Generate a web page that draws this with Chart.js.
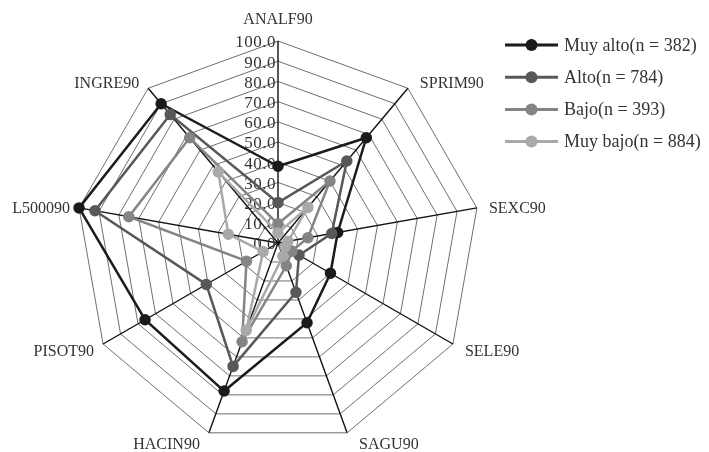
<!DOCTYPE html>
<html>
<head>
<meta charset="utf-8">
<script src="https://cdn.jsdelivr.net/npm/chart.js"></script>
<style>
  body { margin: 0; background: #fff; }
</style>
</head>
<body>
<canvas id="myChart" width="709" height="452"></canvas>
<script>
// axes (clockwise from top)
const categories = ['ANALF90', 'SPRIM90', 'SEXC90', 'SELE90', 'SAGU90', 'HACIN90', 'PISOT90', 'L500090', 'INGRE90'];

// series values
const muyAlto = [38, 68, 30, 30, 42, 78, 76, 100, 90];
const alto = [20, 53, 27, 12, 26, 65, 41, 92, 83];
const bajo = [9.5, 40, 15, 8, 12, 52, 18, 75, 68];
const muyBajo = [5, 23, 5, 4, 7, 46, 8.5, 25, 46];

const seriesNames = ['Muy alto(n = 382)', 'Alto(n = 784)', 'Bajo(n = 393)', 'Muy bajo(n = 884)'];
const seriesColors = ['#1b1b1b', '#58585a', '#848484', '#a9a9a9'];

// tick labels
const tickValues = [0, 10, 20, 30, 40, 50, 60, 70, 80, 90, 100];
const tickLabels = ['0.0', '10.0', '20.0', '30.0', '40.0', '50.0', '60.0', '70.0', '80.0', '90.0', '100.0'];

const serif = '"Liberation Serif", "DejaVu Serif", serif';
const textColor = '#333';

// tick labels left of the vertical axis
const tickPlugin = {
  id: 'leftTicks',
  beforeDatasetsDraw(chart) {
    const r = chart.scales.r;
    const ctx = chart.ctx;
    ctx.save();
    ctx.font = '17px ' + serif;
    ctx.letterSpacing = '0.5px';
    ctx.fillStyle = textColor;
    ctx.textAlign = 'right';
    ctx.textBaseline = 'middle';
    tickValues.forEach((v, i) => {
      const d = r.getDistanceFromCenterForValue(v);
      ctx.fillText(tickLabels[i], r.xCenter - 2, r.yCenter - d + 2);
    });
    ctx.restore();
  }
};

// axis names placed next to the outer vertices
const axisNamePlugin = {
  id: 'axisNames',
  afterDraw(chart) {
    const r = chart.scales.r;
    const ctx = chart.ctx;
    const dist = r.getDistanceFromCenterForValue(100);
    ctx.save();
    ctx.font = '16px ' + serif;
    ctx.fillStyle = textColor;
    categories.forEach((name, i) => {
      const p = r.getPointPosition(i, dist);
      const dx = (p.x - r.xCenter) / dist;
      const dy = (p.y - r.yCenter) / dist;
      if (Math.abs(dx) < 0.05) {
        ctx.textAlign = 'center';
        ctx.textBaseline = 'bottom';
        ctx.fillText(name, p.x, p.y - 13);
      } else {
        ctx.textAlign = dx > 0 ? 'left' : 'right';
        ctx.textBaseline = 'middle';
        ctx.fillText(name, p.x + (dx > 0 ? 12 : -9), p.y + 10 * dy + 3);
      }
    });
    ctx.restore();
  }
};

// legend: line with a dot, top right
const legendPlugin = {
  id: 'lineDotLegend',
  afterDraw(chart) {
    const ctx = chart.ctx;
    ctx.save();
    ctx.font = '18px ' + serif;
    ctx.textAlign = 'left';
    ctx.textBaseline = 'middle';
    seriesNames.forEach((name, i) => {
      const y = 45 + i * 32.2;
      ctx.strokeStyle = seriesColors[i];
      ctx.lineWidth = 3;
      ctx.beginPath();
      ctx.moveTo(505, y);
      ctx.lineTo(558, y);
      ctx.stroke();
      ctx.fillStyle = seriesColors[i];
      ctx.beginPath();
      ctx.arc(531.5, y, 6, 0, Math.PI * 2);
      ctx.fill();
      ctx.fillStyle = textColor;
      ctx.fillText(name, 564, y + 1);
    });
    ctx.restore();
  }
};

const datasets = [muyAlto, alto, bajo, muyBajo].map((vals, i) => ({
  label: seriesNames[i],
  data: vals,
  borderColor: seriesColors[i],
  backgroundColor: seriesColors[i],
  pointBackgroundColor: seriesColors[i],
  pointBorderColor: seriesColors[i],
  pointRadius: 4.5,
  borderWidth: 2.5,
  fill: false
}));

const myChart = new Chart(document.getElementById('myChart'), {
  type: 'radar',
  data: {
    labels: categories,
    // last series drawn on top, like the original
    datasets: datasets.reverse()
  },
  options: {
    responsive: false,
    devicePixelRatio: 1,
    animation: false,
    layout: {
      padding: { left: 76, top: 41, right: 229, bottom: 7 }
    },
    scales: {
      r: {
        min: 0,
        max: 100,
        ticks: { stepSize: 10, display: false },
        grid: { color: '#4a4a4a', lineWidth: 0.8 },
        angleLines: { color: '#111', lineWidth: 1.4 },
        pointLabels: { display: false }
      }
    },
    plugins: {
      tooltip: { enabled: false },
      legend: { display: false }
    }
  },
  plugins: [tickPlugin, axisNamePlugin, legendPlugin]
});
</script>
</body>
</html>
